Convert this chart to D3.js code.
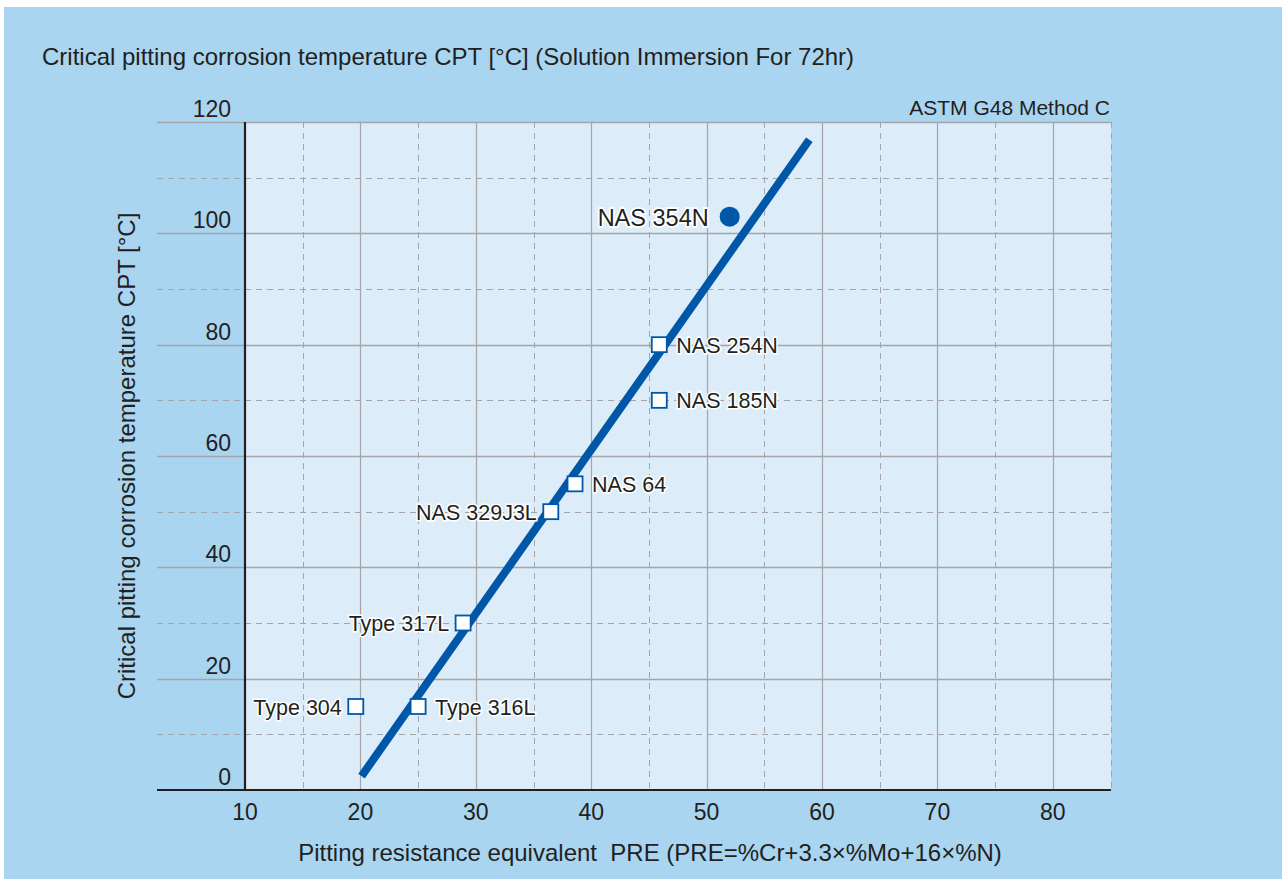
<!DOCTYPE html>
<html>
<head>
<meta charset="utf-8">
<script src="https://cdn.jsdelivr.net/npm/d3@7"></script>
<style>
  body { margin: 0; background: #fff; }
  svg { display: block; font-family: "Liberation Sans", Arial, sans-serif; }
</style>
</head>
<body>
<svg width="1282" height="879"></svg>
<script>
  // steel grades: PRE value and CPT
  var grades = ["Type 304", "Type 316L", "Type 317L", "NAS 329J3L", "NAS 64", "NAS 254N", "NAS 185N"];
  var pre    = [19.6, 25.0, 28.9, 36.5, 38.6, 45.9, 45.9];
  var cpt    = [15, 15, 30, 50, 55, 80, 70];
  var side   = ["left", "right", "left", "left", "right", "right", "right"];

  var featName = "NAS 354N", featPre = 52.0, featCpt = 103;

  // regression line end points
  var fitPre = [20.1, 58.9];
  var fitCpt = [2.5, 116.8];

  var xTicks = [10, 20, 30, 40, 50, 60, 70, 80];
  var xMinor = [15, 25, 35, 45, 55, 65, 75, 85];
  var yTicks = [0, 20, 40, 60, 80, 100, 120];
  var yMinor = [10, 30, 50, 70, 90, 110];

  var svg = d3.select("svg"),
      pL = 245, pR = 1111, pT = 122, pB = 790, gridLeft = 157,
      ink = "#231f20", blue = "#0057a8", gridCol = "#a3a5a8";

  var x = d3.scaleLinear().domain([10, 85]).range([pL, pR - 0.5]);
  var y = d3.scaleLinear().domain([0, 120]).range([pB, pT]);

  svg.append("rect").attr("x", 4).attr("y", 7).attr("width", 1278).attr("height", 872).attr("fill", "#a9d5f1");
  svg.append("rect").attr("x", pL).attr("y", pT).attr("width", pR - pL).attr("height", pB - pT).attr("fill", "#dcedf9");

  var grid = svg.append("g");
  grid.selectAll(".ym").data(yMinor).enter().append("line")
      .attr("x1", gridLeft).attr("x2", pR)
      .attr("y1", function(d) { return Math.round(y(d)) + 0.5; })
      .attr("y2", function(d) { return Math.round(y(d)) + 0.5; })
      .attr("stroke", gridCol).attr("stroke-width", 1).attr("stroke-dasharray", "6,5");
  grid.selectAll(".xm").data(xMinor).enter().append("line")
      .attr("y1", pT).attr("y2", pB)
      .attr("x1", function(d) { return Math.round(x(d)) + 0.5; })
      .attr("x2", function(d) { return Math.round(x(d)) + 0.5; })
      .attr("stroke", gridCol).attr("stroke-width", 1).attr("stroke-dasharray", "6,5");
  grid.selectAll(".xM").data(xTicks.slice(1)).enter().append("line")
      .attr("y1", pT).attr("y2", pB)
      .attr("x1", function(d) { return Math.round(x(d)) + 0.5; })
      .attr("x2", function(d) { return Math.round(x(d)) + 0.5; })
      .attr("stroke", gridCol).attr("stroke-width", 1.2);
  grid.selectAll(".yM").data(yTicks.slice(1)).enter().append("line")
      .attr("x1", gridLeft).attr("x2", pR)
      .attr("y1", function(d) { return Math.round(y(d)) + 0.5; })
      .attr("y2", function(d) { return Math.round(y(d)) + 0.5; })
      .attr("stroke", gridCol).attr("stroke-width", 1.5);

  // axes
  svg.append("line").attr("x1", gridLeft).attr("x2", pR).attr("y1", pB).attr("y2", pB)
      .attr("stroke", ink).attr("stroke-width", 2.2);
  svg.append("line").attr("x1", pL).attr("x2", pL).attr("y1", pT).attr("y2", pB)
      .attr("stroke", ink).attr("stroke-width", 2.2);

  svg.selectAll(".xl").data(xTicks).enter().append("text")
      .attr("x", function(d) { return x(d); }).attr("y", 820)
      .attr("text-anchor", "middle").attr("font-size", 23).attr("fill", ink)
      .text(function(d) { return d; });
  svg.selectAll(".yl").data(yTicks).enter().append("text")
      .attr("x", 231).attr("y", function(d) { return y(d) - 5; })
      .attr("text-anchor", "end").attr("font-size", 23).attr("fill", ink)
      .text(function(d) { return d; });

  svg.append("text").attr("x", 42).attr("y", 65).attr("font-size", 24).attr("fill", ink)
      .text("Critical pitting corrosion temperature CPT [°C] (Solution Immersion For 72hr)");
  svg.append("text").attr("x", 1110).attr("y", 115).attr("text-anchor", "end").attr("font-size", 21).attr("fill", ink)
      .text("ASTM G48 Method C");
  svg.append("text").attr("x", 650).attr("y", 861).attr("text-anchor", "middle").attr("font-size", 24).attr("fill", ink)
      .text("Pitting resistance equivalent  PRE (PRE=%Cr+3.3×%Mo+16×%N)")
      .attr("xml:space", "preserve");
  svg.append("text").attr("transform", "translate(135,456) rotate(-90)")
      .attr("text-anchor", "middle").attr("font-size", 24).attr("fill", ink)
      .text("Critical pitting corrosion temperature CPT [°C]");

  // fit line
  svg.append("path")
      .datum(d3.range(fitPre.length))
      .attr("d", d3.line().x(function(i) { return x(fitPre[i]); }).y(function(i) { return y(fitCpt[i]); }))
      .attr("stroke", blue).attr("stroke-width", 8).attr("fill", "none");

  var idx = d3.range(grades.length);
  svg.selectAll(".pt").data(idx).enter().append("rect")
      .attr("x", function(i) { return x(pre[i]) - 7.5; })
      .attr("y", function(i) { return y(cpt[i]) - 7.5; })
      .attr("width", 15).attr("height", 15)
      .attr("fill", "#fff").attr("stroke", blue).attr("stroke-width", 1.8);

  svg.selectAll(".lab").data(idx).enter().append("text")
      .attr("x", function(i) { return x(pre[i]) + (side[i] === "left" ? -14 : 17); })
      .attr("y", function(i) { return y(cpt[i]) + 8; })
      .attr("text-anchor", function(i) { return side[i] === "left" ? "end" : "start"; })
      .attr("font-size", 21.5).attr("fill", ink)
      .attr("stroke", "#fff").attr("stroke-width", 3).attr("paint-order", "stroke")
      .text(function(i) { return grades[i]; });

  svg.append("circle").attr("cx", x(featPre)).attr("cy", y(featCpt)).attr("r", 10).attr("fill", blue);
  svg.append("text").attr("x", x(featPre) - 21).attr("y", y(featCpt) + 9)
      .attr("text-anchor", "end").attr("font-size", 23.5).attr("fill", ink)
      .attr("stroke", "#fff").attr("stroke-width", 3.5).attr("paint-order", "stroke")
      .text(featName);
</script>
</body>
</html>
